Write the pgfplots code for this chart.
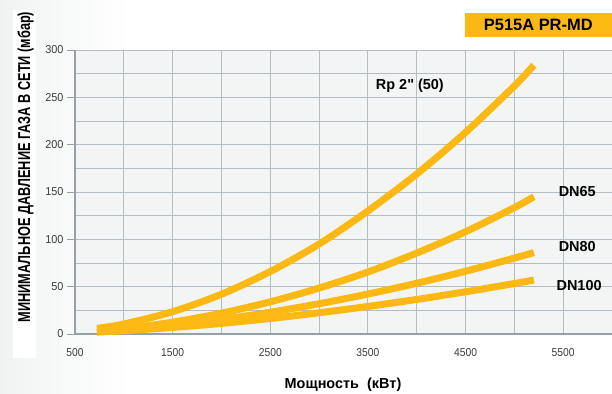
\documentclass[border=0pt]{standalone}
\usepackage{fontspec}
\setmainfont{Liberation Sans}[Ligatures=TeXOff]
\usepackage{pgfplots}
\pgfplotsset{compat=1.18}
\definecolor{curve}{RGB}{253,185,19}
\definecolor{gridc}{RGB}{178,190,196}
\definecolor{bgc}{RGB}{243,245,245}
\definecolor{tickc}{RGB}{60,60,60}
\definecolor{axc}{RGB}{150,160,166}
\definecolor{leftbg}{RGB}{241,243,243}
\begin{document}
\begin{tikzpicture}[x=1bp,y=1bp]
\useasboundingbox (0,0) rectangle (612,393);
\shade[left color=leftbg, right color=white] (0,0) rectangle (130,393);
\fill[white] (13,35) rectangle (36,383);
\begin{axis}[at={(75bp,59bp)}, anchor=south west, scale only axis,
  width=537bp, height=284bp,
  xmin=500, xmax=6000, ymin=0, ymax=300,
  axis background/.style={fill=bgc},
  axis x line*=bottom, axis y line*=left,
  axis line style={axc, line width=1.2bp, -},
  xtick={500,1500,2500,3500,4500,5500},
  minor xtick={1000,2000,3000,4000,5000,6000},
  ytick={0,50,...,300},
  minor ytick={25,75,...,275},
  grid=both,
  major grid style={gridc, line width=0.9bp},
  minor grid style={gridc, line width=0.9bp},
  xtick style={draw=none},
  minor tick style={draw=none},
  ytick style={axc, line width=0.9bp},
  major tick length=8bp,
  tick align=outside,
  /pgf/number format/assume math mode=true,
  /pgf/number format/1000 sep={},
  ticklabel style={font=\fontsize{11.5}{12}\selectfont, text=tickc},
  xticklabel={\scalebox{0.9}[1]{\pgfmathprintnumber{\tick}}},
  yticklabel={\scalebox{0.95}[1]{\pgfmathprintnumber{\tick}}},
  xticklabel style={yshift=-3bp},
  clip=false,
]
\addplot[curve, line width=7bp, smooth] coordinates {
 (725,6) (1000,10.5) (1500,23.6) (2000,42) (2500,66) (3000,95) (3500,130) (4000,169) (4500,213) (5000,262) (5200,284)};
\addplot[curve, line width=7bp, smooth] coordinates {
 (725,3) (1000,5.5) (1500,12.5) (2000,22) (2500,34) (3000,48.5) (3500,65.5) (4000,85.5) (4500,108) (5000,133.5) (5200,145)};
\addplot[curve, line width=7bp, smooth] coordinates {
 (725,2.5) (1000,4.4) (1500,9.2) (2000,15.4) (2500,23) (3000,32) (3500,42.2) (4000,53.6) (4500,66.3) (5000,80.2) (5200,86)};
\addplot[curve, line width=7bp, smooth] coordinates {
 (725,2) (1000,3.5) (1500,6.9) (2000,11.2) (2500,16.4) (3000,22.4) (3500,29.1) (4000,36.5) (4500,44.6) (5000,53.3) (5200,57)};
\node[font=\bfseries\fontsize{14.5}{16}\selectfont] at (axis cs:3930,262) {Rp 2" (50)};
\node[font=\bfseries\fontsize{14.5}{16}\selectfont] at (axis cs:5644,151) {DN65};
\node[font=\bfseries\fontsize{14.5}{16}\selectfont] at (axis cs:5644,92) {DN80};
\node[font=\bfseries\fontsize{14.5}{16}\selectfont] at (axis cs:5663,51) {DN100};
\end{axis}
\node[rotate=90, inner sep=0pt, font=\bfseries\fontsize{12.8}{15}\selectfont] at (25.5,226) {\scalebox{1}[1.35]{МИНИМАЛЬНОЕ ДАВЛЕНИЕ ГАЗА В СЕТИ (мбар)}};
\node[font=\bfseries\fontsize{14.5}{16}\selectfont] at (343,8) {Мощность\ \ (кВт)};
\node[fill=curve, anchor=north east, minimum width=147bp, minimum height=24bp, inner sep=0pt, font=\bfseries\fontsize{16.5}{18}\selectfont] at (612,380) {P515A PR-MD};
\end{tikzpicture}
\end{document}
